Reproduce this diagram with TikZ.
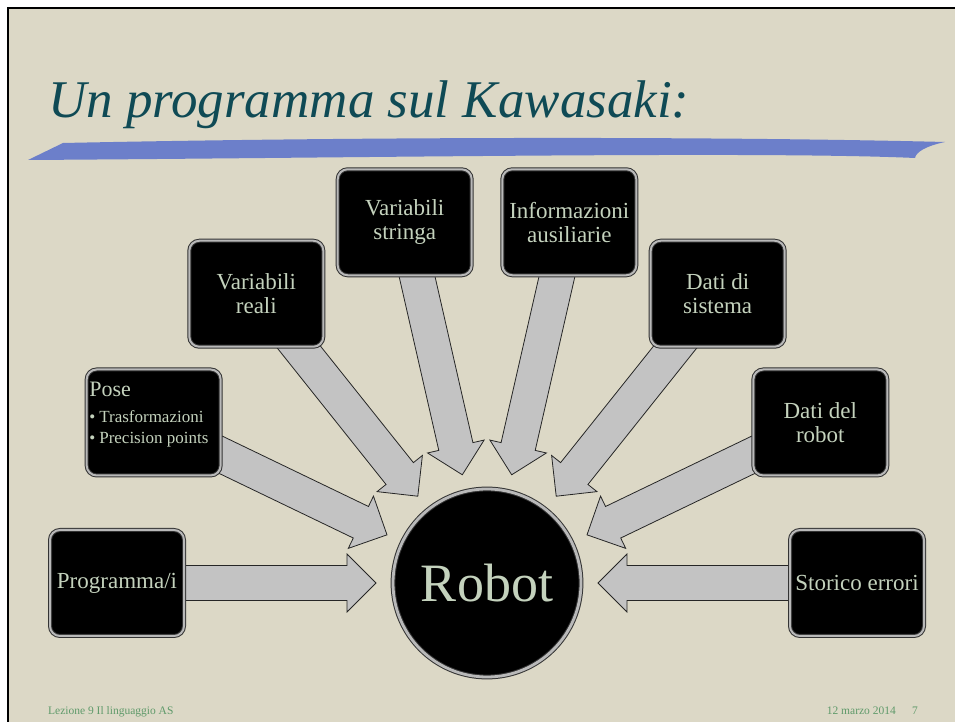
\documentclass[tikz,border=0pt]{standalone}
\usepackage{fontspec}
\setmainfont{Liberation Serif}
\usetikzlibrary{calc}

\definecolor{paper}{HTML}{DCD8C6}
\definecolor{swoosh}{HTML}{6C7FCA}
\definecolor{titleink}{HTML}{0F4A55}
\definecolor{boxink}{HTML}{C4D2BD}
\definecolor{arrowfill}{HTML}{C3C3C3}
\definecolor{footink}{HTML}{5F9A6A}

\pgfdeclarelayer{paperlayer}
\pgfdeclarelayer{arrowlayer}
\pgfsetlayers{paperlayer,arrowlayer,main}

\begin{document}
\begin{tikzpicture}[x=1pt,y=1pt,
  bevel/.style={draw=black!80, line width=1pt, double=gray!55, double distance=2pt},
  catbox/.style={bevel, fill=black, rounded corners=10pt,
    minimum width=134pt, minimum height=106pt, inner sep=2pt,
    text=boxink, font=\fontsize{23}{24}\selectfont, align=center},
  hub/.style={bevel, double distance=2.8pt, circle, fill=black, minimum size=188pt,
    inner sep=0pt, text=boxink, font=\fontsize{54}{60}\selectfont},
  blockarrow/.style={fill=arrowfill, draw=black!85, line width=0.8pt, line join=miter},
  slidetitle/.style={anchor=base west, inner sep=0pt, text=titleink,
    font=\fontsize{53}{60}\selectfont\itshape},
  footer/.style={inner sep=0pt, text=footink, font=\fontsize{11.5}{12}\selectfont}
]
\useasboundingbox (0,0) rectangle (955,722);

% slide paper, frame and title swoosh
\begin{pgfonlayer}{paperlayer}
  \fill[white] (0,0) rectangle (955,722);
  \fill[paper] (8,0) rectangle (955,714);
  \draw[black, line width=2.5pt] (8,0) -- (8,714) -- (955,714);
  \fill[swoosh] (28,562) -- (63,579)
    .. controls (350,585) and (700,586) .. (945,580)
    .. controls (926,576) and (916,570) .. (915,564)
    .. controls (760,571) and (350,564) .. (28,562) -- cycle;
\end{pgfonlayer}

\node[slidetitle] (title) at (48,604) {Un programma sul Kawasaki:};

% hub and the eight sources arranged on a half circle
\coordinate (C) at (487,139);
\node[hub] (robot) at (C) {Robot};
\node[catbox] (b1) at ($(C)+(180:370)$) {Programma/i};
\node[catbox] (b2) at ($(C)+(154.286:370)$) {};
\node[catbox] (b3) at ($(C)+(128.571:370)$) {Variabili\\reali};
\node[catbox] (b4) at ($(C)+(102.857:370)$) {Variabili\\stringa};
\node[catbox] (b5) at ($(C)+(77.143:370)$) {Informazioni\\ausiliarie};
\node[catbox] (b6) at ($(C)+(51.429:370)$) {Dati di\\sistema};
\node[catbox] (b7) at ($(C)+(25.714:370)$) {Dati del\\robot};
\node[catbox] (b8) at ($(C)+(0:370)$) {Storico errori};

\node[anchor=north west, inner sep=0pt, text=boxink, align=left,
      font=\fontsize{17}{21}\selectfont]
  (b2txt) at ($(b2.north west)+(3,-13)$)
  {{\fontsize{22}{22}\selectfont Pose}\\[5pt]
   \textbullet\hspace{4pt}Trasformazioni\\
   \textbullet\hspace{4pt}Precision points};

% block arrows from every source into the hub
\begin{pgfonlayer}{arrowlayer}
  \foreach \bx in {b1,b2,b3,b4,b5,b6,b7,b8} {
    \coordinate (h) at ($(robot.center)!140pt!(\bx.center)$);
    \coordinate (t) at ($(robot.center)!111pt!(\bx.center)$);
    \draw[blockarrow]
      ($(\bx.center)!17.5pt!90:(robot.center)$)
      -- ($(h)!17.5pt!90:(robot.center)$)
      -- ($(h)!29pt!90:(robot.center)$)
      -- (t)
      -- ($(h)!29pt!-90:(robot.center)$)
      -- ($(h)!17.5pt!-90:(robot.center)$)
      -- ($(\bx.center)!17.5pt!-90:(robot.center)$) -- cycle;
  }
\end{pgfonlayer}

% footer
\node[footer, anchor=base west] (foot1) at (48,7) {Lezione 9 Il linguaggio AS};
\node[footer, anchor=base east] (foot2) at (896,7) {12 marzo 2014};
\node[footer, anchor=base] (foot3) at (915,7) {7};
\end{tikzpicture}
\end{document}
